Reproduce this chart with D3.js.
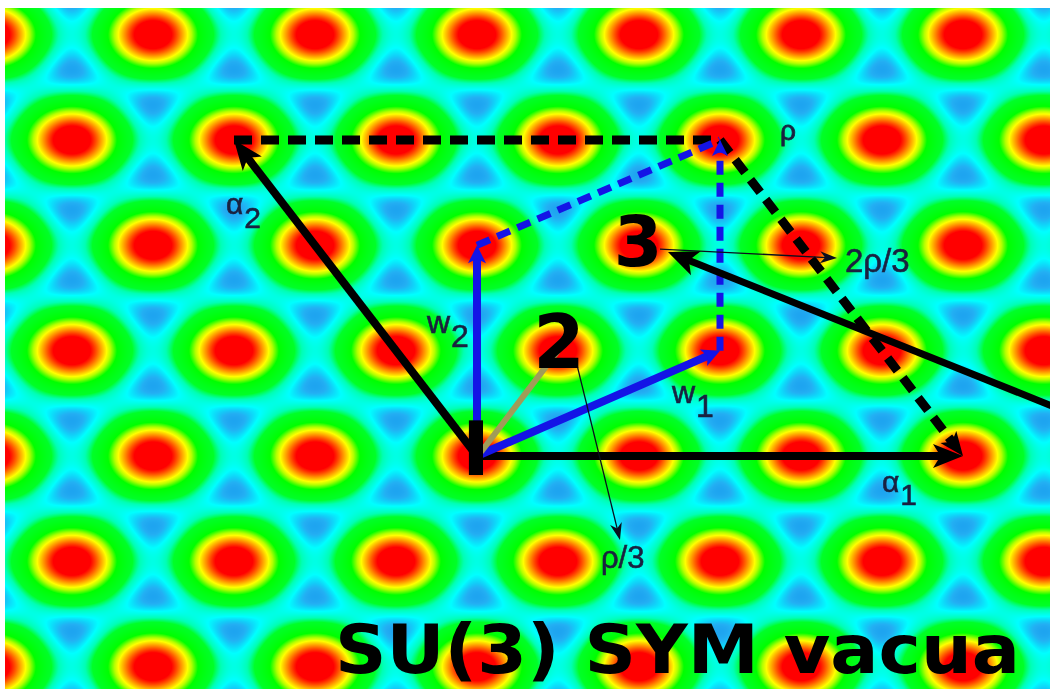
<!DOCTYPE html>
<html>
<head>
<meta charset="utf-8">
<script src="https://cdn.jsdelivr.net/npm/d3@7"></script>
<style>
  html, body { margin: 0; padding: 0; background: #fff; overflow: hidden; }
  #wrap { position: relative; width: 1050px; height: 689px; }
  #wrap canvas, #wrap svg { position: absolute; left: 0; top: 0; }
</style>
</head>
<body>
<div id="wrap"></div>
<script>
// ---- SU(3) weight-space data, root-plane coordinates (alpha_1 has unit length) ----
const rootNames = ["α", "α"];
const rootSubs  = ["1", "2"];
const rootX     = [1.0, -0.5];
const rootY     = [0.0, 0.8660];

const weightNames = ["w", "w"];
const weightSubs  = ["1", "2"];
const weightX     = [0.5, 0.0];
const weightY     = [0.2887, 0.5774];

// Weyl vector rho = alpha_1 + alpha_2
const rhoX = 0.5;
const rhoY = 0.8660;

// The three vacua sit at k*rho/3, k = 0, 1, 2
const vacuumLabels = ["I", "2", "3"];
const vacuumK      = [0, 1, 2];

// Vacuum lattice spacing (alpha_1 / 3) and the colour scale of the potential
const latticeStep = 1 / 3;
const fieldStops  = [-1.5, -1.42, -1.32, -1.14, -0.75, -0.4, 0.65, 1.15, 1.45, 1.95, 2.5, 3.0];
const fieldColors = ["#1ea4f0", "#23aff3", "#12cdf8", "#00ffff", "#00ffb4", "#00ff28",
                     "#00ff00", "#b4ff00", "#ffff00", "#ff8c00", "#ff0000", "#ff0000"];

// Annotation leaders (root-plane coordinates): start and end points
const leaderText   = ["ρ/3", "2ρ/3"];
const leaderFromX  = [0.2058, 0.3765];
const leaderFromY  = [0.2493, 0.5671];
const leaderToX    = [0.2942, 0.7407];
const leaderToY    = [-0.2301, 0.5425];
const leaderLabelX = [0.2551, 0.7572];
const leaderLabelY = [-0.3068, 0.5041];

// Long pointer to the third vacuum, entering from the right
const pointerFrom = [1.2037, 0.1260];
const pointerTo   = [0.3930, 0.5589];

// Vector label anchors
const rootLabelX   = [0.8333, -0.5165];
const rootLabelY   = [-0.0986, 0.6630];
const weightLabelX = [0.4012, -0.1029];
const weightLabelY = [0.1452, 0.3370];
const rhoLabel     = ["ρ", 0.6235, 0.8658];

const title = "SU(3) SYM vacua";

// ---------------------------------------------------------------------------
const W = 1050, H = 689;
const frameLeft = 5, frameTop = 8;

const x = d3.scaleLinear().domain([0, 1]).range([477, 963]);
const y = d3.scaleLinear().domain([0, 0.8660]).range([456, 140]);

const wrap = d3.select("#wrap");

// ---- potential landscape: V = sum of three plane waves on the vacuum lattice ----
const canvas = wrap.append("canvas").attr("width", W).attr("height", H).node();
const ctx = canvas.getContext("2d");
ctx.fillStyle = "#fff";
ctx.fillRect(0, 0, W, H);

const color = d3.scaleLinear().domain(fieldStops).range(fieldColors)
  .interpolate(d3.interpolateRgb).clamp(true);
const LUTN = 1024;
const fMin = fieldStops[0], fMax = fieldStops[fieldStops.length - 1];
const lut = d3.range(LUTN).map(i => d3.rgb(color(fMin + (fMax - fMin) * i / (LUTN - 1))));

const s3 = Math.sqrt(3);
const k = 2 * Math.PI / latticeStep;
const img = ctx.createImageData(W - frameLeft, H - frameTop);
for (let py = frameTop; py < H; py++) {
  const v = y.invert(py + 0.5);
  for (let px = frameLeft; px < W; px++) {
    const u = x.invert(px + 0.5);
    const f = Math.cos(k * (u - v / s3)) + Math.cos(k * (2 * v / s3)) + Math.cos(k * (u + v / s3));
    let idx = Math.round((f - fMin) / (fMax - fMin) * (LUTN - 1));
    idx = Math.max(0, Math.min(LUTN - 1, idx));
    const c = lut[idx];
    const o = ((py - frameTop) * (W - frameLeft) + (px - frameLeft)) * 4;
    img.data[o] = c.r; img.data[o + 1] = c.g; img.data[o + 2] = c.b; img.data[o + 3] = 255;
  }
}
ctx.putImageData(img, frameLeft, frameTop);

// ---- vectors and labels ----
const svg = wrap.append("svg").attr("width", W).attr("height", H);
const g = svg.append("g");

function arrow(x0, y0, x1, y1, o) {
  const dx = x1 - x0, dy = y1 - y0, len = Math.hypot(dx, dy);
  const ux = dx / len, uy = dy / len;
  const L = o.head ? o.head[0] : 0, hw = o.head ? o.head[1] / 2 : 0;
  const back = o.head ? L * 0.6 : 0;
  g.append("line")
    .attr("x1", x0).attr("y1", y0)
    .attr("x2", x1 - ux * back).attr("y2", y1 - uy * back)
    .attr("stroke", o.color).attr("stroke-width", o.width)
    .attr("stroke-dasharray", o.dash || null)
    .attr("stroke-linecap", "butt");
  if (o.head) {
    const bx = x1 - ux * L, by = y1 - uy * L;
    const nx = -uy, ny = ux;
    const notch = L * (o.notch == null ? 0.75 : o.notch);
    const pts = [
      [x1, y1],
      [bx + nx * hw, by + ny * hw],
      [x1 - ux * notch, y1 - uy * notch],
      [bx - nx * hw, by - ny * hw]
    ];
    g.append("path").attr("d", "M" + pts.map(p => p.join(",")).join("L") + "Z")
      .attr("fill", o.color);
  }
}

const X0 = x(0), Y0 = y(0);
const BLUE = "#1414e6", BLACK = "#000";

// dashed closures of the parallelograms
arrow(x(rootX[1]), y(rootY[1]), x(rhoX), y(rhoY), { color: BLACK, width: 9, dash: "18,9" });
arrow(x(rhoX), y(rhoY), x(rootX[0]), y(rootY[0]), { color: BLACK, width: 9, dash: "16,9", head: [24, 20] });
arrow(x(weightX[1]), y(weightY[1]), x(rhoX), y(rhoY), { color: BLUE, width: 7, dash: "14,8" });
arrow(x(weightX[0]), y(weightY[0]), x(rhoX), y(rhoY), { color: BLUE, width: 7, dash: "14,8", head: [16, 16] });

// simple roots
rootX.forEach((rx, i) => {
  arrow(X0, Y0, x(rx), y(rootY[i]), { color: BLACK, width: 8, head: [30, 24] });
});
// fundamental weights
weightX.forEach((wx, i) => {
  arrow(X0, Y0, x(wx), y(weightY[i]), { color: BLUE, width: 8, head: [18, 18] });
});

// rho/3 direction to the second vacuum
g.append("line")
  .attr("x1", X0 + 4).attr("y1", Y0 - 4)
  .attr("x2", x(rhoX * vacuumK[1] / 3)).attr("y2", y(rhoY * vacuumK[1] / 3))
  .attr("stroke", "#a09c58").attr("stroke-width", 6);

// thin leaders
leaderText.forEach((t, i) => {
  arrow(x(leaderFromX[i]), y(leaderFromY[i]), x(leaderToX[i]), y(leaderToY[i]),
        { color: "#0a0f1e", width: 1.3, head: [17, 12], notch: 0.7 });
});

// long pointer to vacuum 3
arrow(x(pointerFrom[0]), y(pointerFrom[1]), x(pointerTo[0]), y(pointerTo[1]),
      { color: BLACK, width: 7, head: [30, 26] });

// small labels
const LABEL = "#1a2140";
const labelFont = "'Liberation Sans', Arial, sans-serif";
function subLabel(px, py, main, sub, size) {
  const t = g.append("text").attr("x", px).attr("y", py)
    .attr("font-family", labelFont).attr("font-size", size).attr("fill", LABEL)
    .attr("stroke", LABEL).attr("stroke-width", 0.6);
  t.append("tspan").text(main);
  t.append("tspan").attr("dx", 1).attr("dy", size * 0.45).text(sub);
}
rootNames.forEach((n, i) => subLabel(x(rootLabelX[i]), y(rootLabelY[i]), n, rootSubs[i], 30));
weightNames.forEach((n, i) => subLabel(x(weightLabelX[i]), y(weightLabelY[i]), n, weightSubs[i], 32));

g.append("text").attr("x", x(rhoLabel[1])).attr("y", y(rhoLabel[2]))
  .attr("font-family", labelFont).attr("font-size", 28).attr("fill", LABEL)
  .attr("stroke", LABEL).attr("stroke-width", 0.8)
  .text(rhoLabel[0]);

leaderText.forEach((t, i) => {
  g.append("text").attr("x", x(leaderLabelX[i])).attr("y", y(leaderLabelY[i]))
    .attr("font-family", labelFont).attr("font-size", i === 0 ? 31 : 33).attr("fill", LABEL)
    .attr("stroke", LABEL).attr("stroke-width", 0.6)
    .text(t);
});

// vacuum numbers
const bigFont = "'DejaVu Sans', sans-serif";
const vacuumDy = [19, 17, 21];
const vacuumDx = [-1, 1, -1];
const vacuumSize = [75, 74, 70];
vacuumLabels.forEach((lab, i) => {
  g.append("text")
    .attr("x", x(rhoX * vacuumK[i] / 3) + vacuumDx[i])
    .attr("y", y(rhoY * vacuumK[i] / 3) + vacuumDy[i])
    .attr("text-anchor", "middle")
    .attr("font-family", bigFont).attr("font-weight", "bold")
    .attr("font-size", vacuumSize[i]).attr("fill", BLACK)
    .text(lab);
});

// title
g.append("text").attr("x", 335).attr("y", 673)
  .attr("font-family", bigFont).attr("font-weight", "bold")
  .attr("font-size", 68).attr("fill", BLACK)
  .attr("textLength", 685).attr("lengthAdjust", "spacingAndGlyphs")
  .text(title);
</script>
</body>
</html>
